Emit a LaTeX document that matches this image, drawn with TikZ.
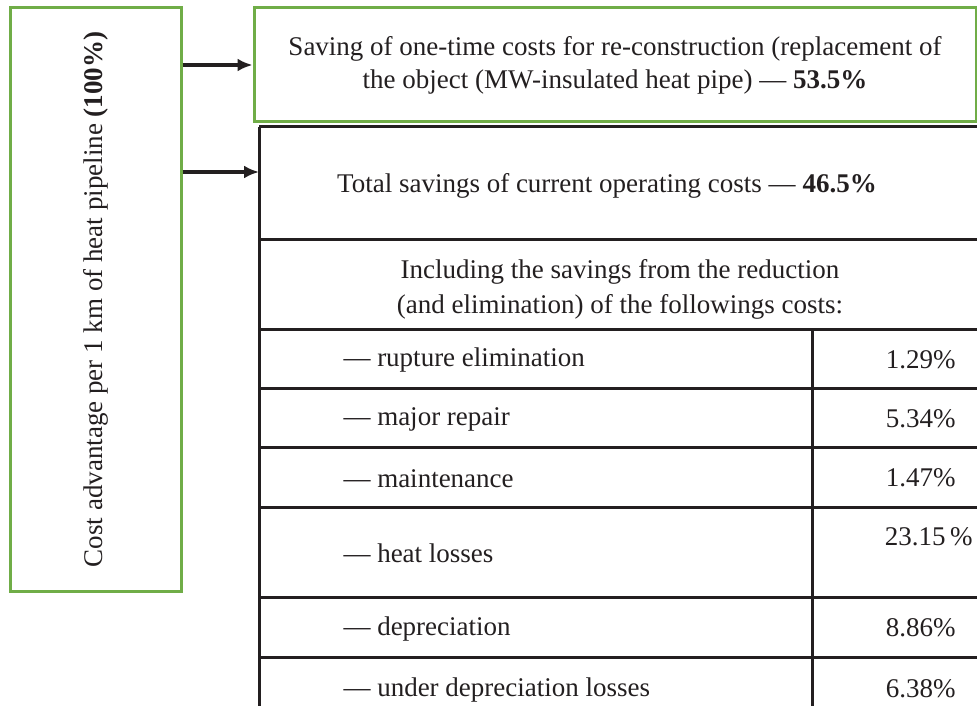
\documentclass[tikz,border=0pt]{standalone}
\usepackage{fontspec}
\setmainfont{Liberation Serif}
\usepackage{xcolor}
\usetikzlibrary{positioning, arrows.meta}
\definecolor{boxgreen}{HTML}{70AD47}
\definecolor{ink}{HTML}{231F20}

\begin{document}
\begin{tikzpicture}[x=1pt, y=-1pt, line width=3pt, >={Latex[length=15pt, width=13pt]}, every node/.style={font=\fontsize{27}{33}\selectfont, text=ink}, greenbox/.style={rectangle, draw=boxgreen, inner sep=0pt}, rowtext/.style={anchor=west, inner sep=0pt}, share/.style={anchor=east, inner sep=0pt}]

    \useasboundingbox (0,0) rectangle (977,706);

    \node[greenbox, minimum width=171pt, minimum height=583pt] (advantage) at (95.5, 299.5) {};
    \node[rotate=90] (advantagetext) at (advantage.center) {Cost advantage per 1 km of heat pipeline \textbf{(100\%)}};
    \node[greenbox, minimum width=722pt, minimum height=114pt, align=center] (onetime) at (615, 65) {Saving of one-time costs for re-construction (replacement of\\the object (MW-insulated heat pipe) --- \textbf{53.5\%}};

    % table
    \coordinate (tablenw) at (259, 127);
    \coordinate (entry) at (259, 172);
    \foreach \y in {127, 239, 329, 388, 447, 507, 597, 657}
        \draw[draw=ink] (259, \y) -- (980, \y);
    \draw[draw=ink] (259, 127) -- (259, 710);
    \draw[draw=ink] (812, 329) -- (812, 710);

    \node (current) at (607, 186) {Total savings of current operating costs --- \textbf{46.5\%}};
    \node[align=center, font=\fontsize{27}{35}\selectfont] (including) at (620, 289) {Including the savings from the reduction\\(and elimination) of the followings costs:};

    \foreach \top/\bot/\item/\share [count=\i] in {329/388/rupture elimination/1.29, 388/447/major repair/5.34, 447/507/maintenance/1.47, 597/657/depreciation/8.86, 657/719/under depreciation losses/6.38} {
        \node[rowtext] (item\i) at (342, {(\top+\bot)/2+2}) {--- \item};
        \node[share] (share\i) at (957, {(\top+\bot)/2+1}) {\share\%};
    }
    \node[rowtext] (itemheat) at (342, 553) {--- heat losses};
    \node[share] (shareheat) at (974, 537) {23.15\,\%};

    \draw[->, draw=ink, line width=3.5pt] (advantage.east |- onetime.west) -- (onetime.west);
    \draw[->, draw=ink, line width=3.5pt] (advantage.east |- entry) -- (entry);

\end{tikzpicture}
\end{document}
